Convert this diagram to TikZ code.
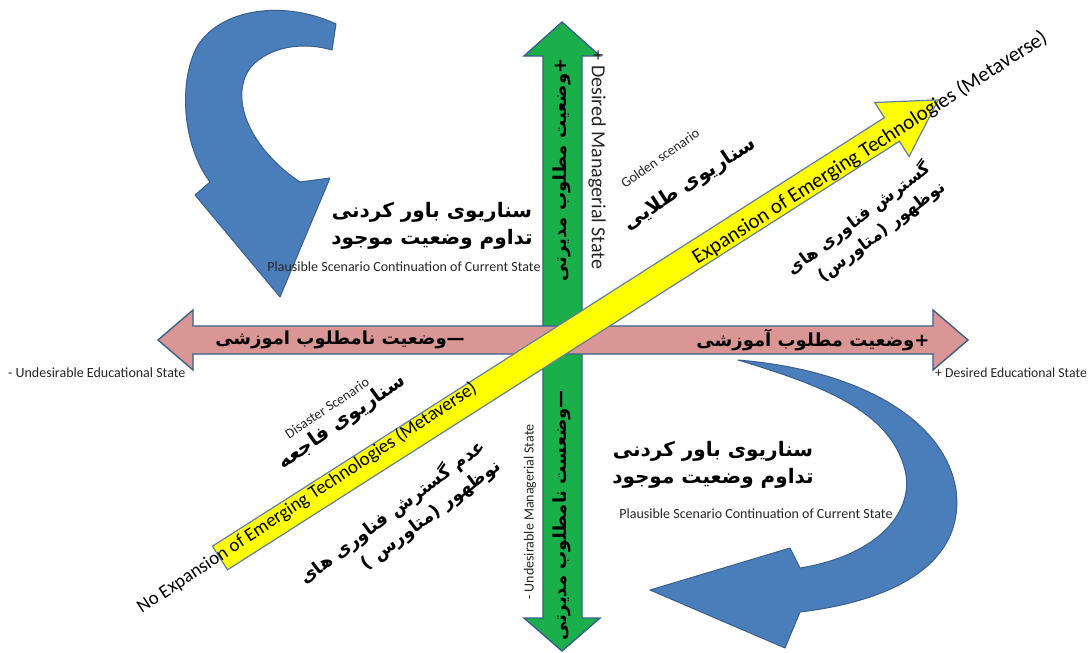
\documentclass[tikz,border=0pt]{standalone}
\usepackage{fontspec}
\setmainfont{Carlito}
\newfontfamily\fafont[Script=Arabic]{DejaVu Sans}
\TeXXeTstate=1
\newcommand\rl[1]{\beginR#1\endR}
\definecolor{arrowgreen}{HTML}{1AAF4B}
\definecolor{arrowpink}{HTML}{D99694}
\definecolor{arrowyellow}{HTML}{FFFF00}
\definecolor{arrowblue}{HTML}{4A7EBB}
\definecolor{edgeblue}{HTML}{3A5F8B}
\begin{document}
\begin{tikzpicture}[x=1pt,y=-1pt,
  greenarrow/.style={fill=arrowgreen,draw=edgeblue,line width=1.4pt,line join=miter},
  pinkarrow/.style={fill=arrowpink,draw=edgeblue,line width=1.4pt,line join=miter},
  yellowarrow/.style={fill=arrowyellow,draw=edgeblue!80,line width=1.2pt,line join=miter},
  bluearrow/.style={fill=arrowblue,draw=edgeblue,line width=1pt,line join=round},
  fa/.style={font=\fafont\bfseries\fontsize{20}{27}\selectfont,text=black,inner sep=1pt},
  faax/.style={font=\fafont\bfseries\fontsize{18}{20}\selectfont,text=black,inner sep=1pt},
  en/.style={font=\fontsize{14}{16}\selectfont,text=black!85,inner sep=1pt},
  enbig/.style={font=\fontsize{20}{22}\selectfont,text=black,inner sep=1pt}]
\useasboundingbox (0,0) rectangle (1090,653);
\fill[white] (0,0) rectangle (1090,653);

% top-left curved blue arrow
\draw[bluearrow] (336,24) .. controls (290,2) and (225,5) .. (198,45)
  .. controls (178,80) and (182,145) .. (210,182)
  -- (195,195) -- (280,297) -- (330,178) -- (300,182)
  .. controls (252,150) and (228,100) .. (250,68)
  .. controls (270,45) and (305,42) .. (332,50) -- cycle;

% bottom-right curved blue arrow
\draw[bluearrow] (738,360) .. controls (860,370) and (945,420) .. (956,490)
  .. controls (965,560) and (900,600) .. (800,612)
  -- (785,648) -- (650,590) -- (790,548) -- (800,568)
  .. controls (880,555) and (915,510) .. (905,470)
  .. controls (890,410) and (820,385) .. (738,360) -- cycle;

% green vertical double arrow
\draw[greenarrow] (543,56) -- (524,56) -- (562,22) -- (600,56) -- (582,56)
  -- (582,618) -- (600,618) -- (562,651) -- (524,618) -- (543,618) -- cycle;

% pink horizontal double arrow
\draw[pinkarrow] (193,326) -- (193,310) -- (158,340) -- (193,370) -- (193,354)
  -- (933,354) -- (933,370) -- (968,340) -- (933,310) -- (933,326) -- cycle;

% yellow diagonal arrow
\begin{scope}[shift={(220,558)},rotate=32.53]
\draw[yellowarrow] (0,-14) -- (797,-14) -- (797,-32) -- (852,0) -- (797,32) -- (797,14) -- (0,14) -- cycle;
\end{scope}

% axis labels (Persian)
\node[faax,rotate=90] (gtop) at (562,170) {\rl{+وضعیت مطلوب مدیرتی}};
\node[faax,rotate=90] (gbot) at (562,515) {\rl{—وضعست نامطلوب مدیرتی}};
\node[faax] (pleft) at (340,340) {\rl{—وضعیت نامطلوب اموزشی}};
\node[faax] (pright) at (813,340) {\rl{+وضعیت مطلوب آموزشی}};

% axis labels (English)
\node[en,font=\fontsize{20}{22}\selectfont,rotate=-90] (dms) at (597,160) {+ Desired Managerial State};
\node[en,rotate=90] (ums) at (530,512) {- Undesirable Managerial State};
\node[en,font=\fontsize{13.7}{16}\selectfont,anchor=west] (des) at (934,373) {+ Desired Educational State};
\node[en,anchor=west] (ues) at (7,373) {- Undesirable Educational State};
\node[enbig,font=\fontsize{21}{23}\selectfont,rotate=32.5] (exp) at (870,148) {Expansion of Emerging Technologies (Metaverse)};
\node[enbig,font=\fontsize{19}{21}\selectfont,rotate=33.5] (noexp) at (307,498) {No Expansion of Emerging Technologies (Metaverse)};

% quadrant texts
\node[fa,align=center] (ptl) at (432,226) {\rl{سناریوی  باور کردنی}\\\rl{تداوم وضعیت موجود}};
\node[en] (ptle) at (404,267) {Plausible Scenario Continuation of Current State};
\node[fa,align=center] (pbr) at (713,465) {\rl{سناریوی  باور کردنی}\\\rl{تداوم وضعیت موجود}};
\node[en] (pbre) at (756,514) {Plausible Scenario Continuation of Current State};

\node[en,rotate=35] (gold) at (660,158) {Golden scenario};
\node[fa,rotate=33] (goldfa) at (690,184) {\rl{سناریوی طلایی}};
\node[en,rotate=34] (dis) at (327,408) {Disaster Scenario};
\node[fa,rotate=35] (disfa) at (342,422) {\rl{سناریوی  فاجعه}};

\node[fa,font=\fafont\bfseries\fontsize{17}{24}\selectfont,rotate=37,align=right] (expfa) at (866,228) {\rl{گسترش فناوری های}\\\rl{نوظهور (متاورس)}};
\node[fa,font=\fafont\bfseries\fontsize{18}{25}\selectfont,rotate=37,align=right] (noexpfa) at (400,522) {\rl{عدم گسترش فناوری های}\\\rl{نوظهور (متاورس )}};
\end{tikzpicture}
\end{document}
